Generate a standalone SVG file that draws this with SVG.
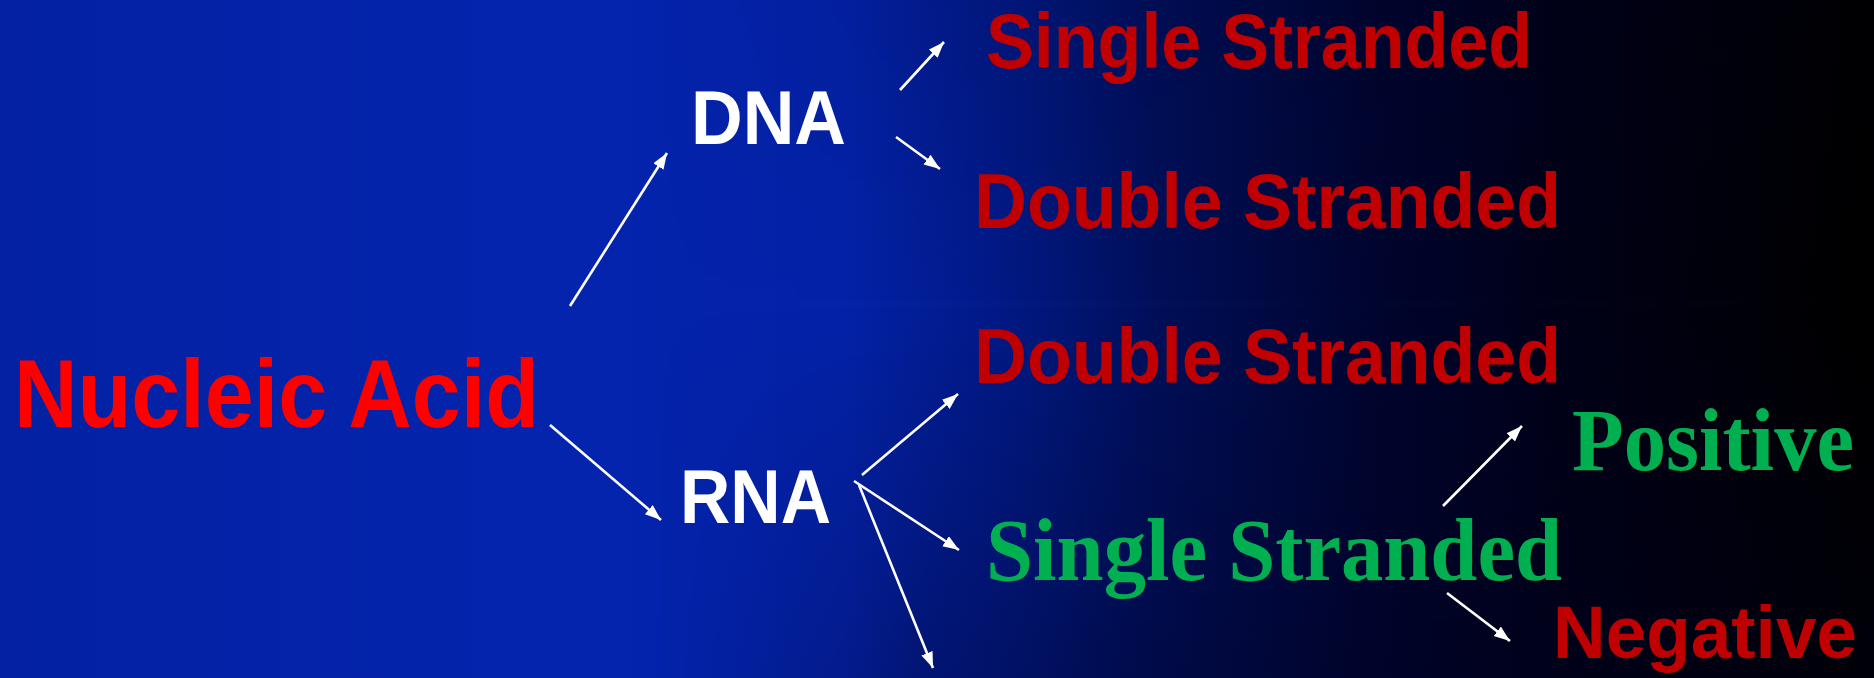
<svg xmlns="http://www.w3.org/2000/svg" width="1874" height="678" viewBox="0 0 1874 678">
<defs>
<linearGradient id="bg" x1="0" y1="0" x2="1" y2="0">
<stop offset="0" stop-color="#0321A2"/>
<stop offset="0.3" stop-color="#0424AE"/>
<stop offset="0.45" stop-color="#0422A8"/>
<stop offset="0.53" stop-color="#021A88"/>
<stop offset="0.62" stop-color="#010F58"/>
<stop offset="0.72" stop-color="#000633"/>
<stop offset="0.82" stop-color="#00021A"/>
<stop offset="1" stop-color="#000000"/>
</linearGradient>
<linearGradient id="shade" gradientUnits="userSpaceOnUse" x1="0" y1="0" x2="0" y2="678">
<stop offset="0" stop-color="#000020" stop-opacity="0.1"/>
<stop offset="0.45" stop-color="#000020" stop-opacity="0"/>
<stop offset="1" stop-color="#000020" stop-opacity="0.3"/>
</linearGradient>
<linearGradient id="shadeMaskG" x1="0" y1="0" x2="1" y2="0">
<stop offset="0" stop-color="#000"/>
<stop offset="0.35" stop-color="#000"/>
<stop offset="0.5" stop-color="#fff"/>
<stop offset="1" stop-color="#fff"/>
</linearGradient>
<mask id="shadeMask"><rect x="0" y="0" width="1874" height="678" fill="url(#shadeMaskG)"/></mask>
<marker id="ah" markerUnits="userSpaceOnUse" markerWidth="18" markerHeight="14" refX="16" refY="6" orient="auto">
<path d="M0,0 L16,6 L0,12 z" fill="#FFFFFF"/>
</marker>
<style>
.cal{font-family:"Liberation Sans",Arial,sans-serif;font-weight:bold}
.tnr{font-family:"Liberation Serif","Times New Roman",serif;font-weight:bold}
.red{fill:#FF0000}
.dred{fill:#C00000}
.grn{fill:#00B050}
.wht{fill:#FFFFFF}
.arr{stroke:#FFFFFF;stroke-width:2.6;fill:none;marker-end:url(#ah)}
</style>
</defs>
<rect x="0" y="0" width="1874" height="678" fill="url(#bg)"/>
<rect x="0" y="0" width="1874" height="678" fill="url(#shade)" mask="url(#shadeMask)"/>

<g id="connectors">
<line class="arr" x1="570" y1="306" x2="667" y2="153"/>
<line class="arr" x1="900" y1="90" x2="944" y2="42"/>
<line class="arr" x1="896" y1="137" x2="940" y2="169"/>
<line class="arr" x1="550" y1="425" x2="661" y2="520"/>
<line class="arr" x1="862" y1="475" x2="958" y2="394"/>
<line class="arr" x1="854" y1="481" x2="959" y2="550"/>
<line class="arr" x1="859" y1="485" x2="933" y2="668"/>
<line class="arr" x1="1443" y1="506" x2="1522" y2="426"/>
<line class="arr" x1="1447" y1="593" x2="1510" y2="641"/>
</g>

<g id="nucleic-acid"><text class="cal red" x="14" y="427" font-size="96" textLength="525" lengthAdjust="spacingAndGlyphs">Nucleic Acid</text></g>
<g id="dna"><text class="cal wht" x="691" y="144" font-size="76" textLength="155" lengthAdjust="spacingAndGlyphs">DNA</text></g>
<g id="rna"><text class="cal wht" x="680" y="523" font-size="76" textLength="151" lengthAdjust="spacingAndGlyphs">RNA</text></g>
<g id="dna-single"><text class="cal dred" x="986" y="68" font-size="78" textLength="546" lengthAdjust="spacingAndGlyphs">Single Stranded</text></g>
<g id="dna-double"><text class="cal dred" x="974" y="228" font-size="78" textLength="587" lengthAdjust="spacingAndGlyphs">Double Stranded</text></g>
<g id="rna-double"><text class="cal dred" x="974" y="383" font-size="78" textLength="587" lengthAdjust="spacingAndGlyphs">Double Stranded</text></g>
<g id="rna-single"><text class="tnr grn" x="986" y="580" font-size="88" textLength="576" lengthAdjust="spacingAndGlyphs">Single Stranded</text></g>
<g id="positive"><text class="tnr grn" x="1572" y="470" font-size="88" textLength="282" lengthAdjust="spacingAndGlyphs">Positive</text></g>
<g id="negative"><text class="cal dred" x="1553" y="658" font-size="74" textLength="304" lengthAdjust="spacingAndGlyphs">Negative</text></g>
</svg>
